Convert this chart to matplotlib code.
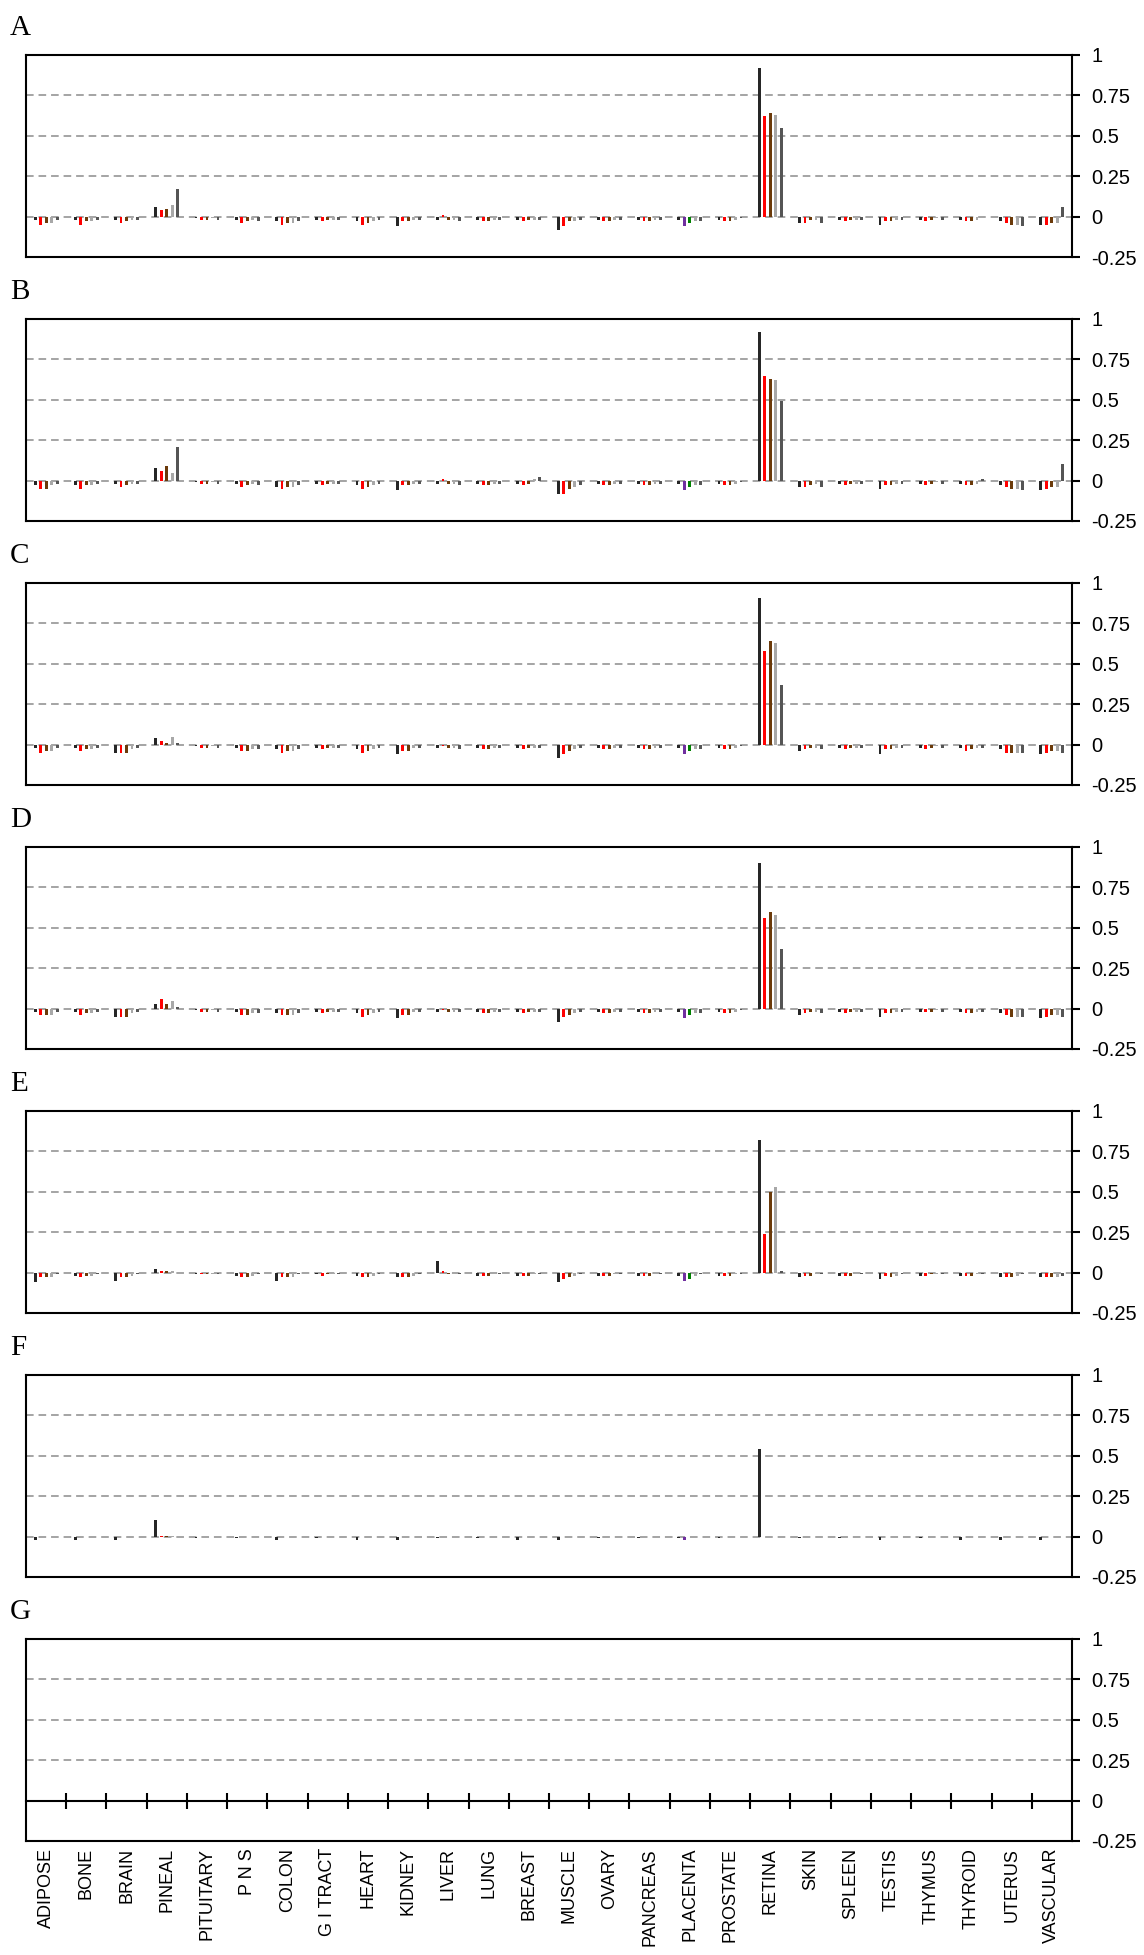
import numpy as np
import matplotlib
matplotlib.use('Agg')
import matplotlib.pyplot as plt

plt.rcParams['font.family'] = ['Liberation Sans', 'DejaVu Sans']

tissues = ['ADIPOSE', 'BONE', 'BRAIN', 'PINEAL', 'PITUITARY', 'P N S', 'COLON', 'G I TRACT',
           'HEART', 'KIDNEY', 'LIVER', 'LUNG', 'BREAST', 'MUSCLE', 'OVARY', 'PANCREAS',
           'PLACENTA', 'PROSTATE', 'RETINA', 'SKIN', 'SPLEEN', 'TESTIS', 'THYMUS', 'THYROID',
           'UTERUS', 'VASCULAR']
panel_names = ['A', 'B', 'C', 'D', 'E', 'F', 'G']
y_ticks = [-0.25, 0, 0.25, 0.5, 0.75, 1]
y_tick_labels = ['-0.25', '0', '0.25', '0.5', '0.75', '1']

# five series per tissue
A_s1 = [-0.02, -0.02, -0.02, 0.06, -0.01, -0.02, -0.03, -0.02, -0.03, -0.06, -0.02, -0.02, -0.02,
        -0.08, -0.02, -0.02, -0.02, -0.02, 0.92, -0.04, -0.02, -0.05, -0.02, -0.02, -0.03, -0.05]
A_s2 = [-0.05, -0.05, -0.04, 0.04, -0.02, -0.04, -0.05, -0.03, -0.05, -0.03, 0.01, -0.03, -0.03,
        -0.06, -0.03, -0.03, -0.06, -0.03, 0.62, -0.04, -0.03, -0.03, -0.03, -0.03, -0.04, -0.05]
A_s3 = [-0.04, -0.03, -0.03, 0.05, -0.02, -0.03, -0.04, -0.02, -0.04, -0.03, -0.02, -0.03, -0.02,
        -0.03, -0.03, -0.03, -0.04, -0.03, 0.64, -0.02, -0.02, -0.03, -0.02, -0.03, -0.05, -0.04]
A_s4 = [-0.04, -0.03, -0.02, 0.07, -0.01, -0.02, -0.04, -0.02, -0.03, -0.02, -0.02, -0.02, -0.02,
        -0.03, -0.02, -0.02, -0.03, -0.02, 0.63, -0.02, -0.02, -0.02, -0.01, -0.02, -0.05, -0.04]
A_s5 = [-0.02, -0.02, -0.02, 0.17, -0.02, -0.03, -0.03, -0.02, -0.02, -0.02, -0.03, -0.02, -0.02,
        -0.02, -0.02, -0.02, -0.03, -0.01, 0.55, -0.04, -0.02, -0.02, -0.02, 0.00, -0.06, 0.06]

B_s1 = [-0.03, -0.03, -0.02, 0.08, -0.01, -0.02, -0.04, -0.02, -0.03, -0.06, -0.02, -0.02, -0.02,
        -0.08, -0.02, -0.02, -0.02, -0.02, 0.92, -0.04, -0.02, -0.05, -0.02, -0.02, -0.03, -0.06]
B_s2 = [-0.05, -0.05, -0.04, 0.06, -0.02, -0.04, -0.05, -0.03, -0.05, -0.03, 0.01, -0.03, -0.03,
        -0.08, -0.03, -0.03, -0.06, -0.03, 0.65, -0.04, -0.03, -0.03, -0.03, -0.03, -0.04, -0.05]
B_s3 = [-0.05, -0.03, -0.03, 0.09, -0.02, -0.03, -0.04, -0.02, -0.04, -0.03, -0.02, -0.03, -0.02,
        -0.05, -0.03, -0.03, -0.04, -0.03, 0.63, -0.03, -0.02, -0.03, -0.02, -0.03, -0.05, -0.04]
B_s4 = [-0.03, -0.03, -0.02, 0.05, -0.01, -0.02, -0.04, -0.02, -0.03, -0.02, -0.02, -0.02, 0.01,
        -0.04, -0.02, -0.02, -0.03, -0.02, 0.62, -0.02, -0.02, -0.02, -0.01, -0.02, -0.05, -0.04]
B_s5 = [-0.02, -0.02, -0.02, 0.21, -0.02, -0.03, -0.03, -0.02, -0.02, -0.02, -0.03, -0.02, 0.02,
        -0.03, -0.02, -0.02, -0.03, -0.01, 0.49, -0.04, -0.02, -0.02, -0.02, 0.01, -0.06, 0.10]

C_s1 = [-0.02, -0.02, -0.05, 0.04, -0.01, -0.02, -0.03, -0.02, -0.03, -0.06, -0.02, -0.02, -0.02,
        -0.08, -0.02, -0.02, -0.02, -0.02, 0.91, -0.04, -0.02, -0.06, -0.02, -0.02, -0.03, -0.06]
C_s2 = [-0.05, -0.04, -0.05, 0.02, -0.02, -0.04, -0.05, -0.03, -0.05, -0.04, -0.01, -0.03, -0.03,
        -0.06, -0.03, -0.03, -0.06, -0.03, 0.58, -0.03, -0.03, -0.03, -0.03, -0.04, -0.05, -0.05]
C_s3 = [-0.04, -0.03, -0.05, 0.01, -0.02, -0.04, -0.04, -0.02, -0.04, -0.04, -0.02, -0.03, -0.02,
        -0.04, -0.03, -0.03, -0.04, -0.03, 0.64, -0.02, -0.02, -0.03, -0.02, -0.03, -0.05, -0.04]
C_s4 = [-0.04, -0.03, -0.03, 0.05, -0.01, -0.03, -0.04, -0.02, -0.03, -0.02, -0.02, -0.02, -0.02,
        -0.03, -0.02, -0.02, -0.03, -0.02, 0.63, -0.02, -0.02, -0.02, -0.01, -0.02, -0.05, -0.04]
C_s5 = [-0.02, -0.02, -0.02, 0.01, -0.02, -0.03, -0.03, -0.02, -0.02, -0.02, -0.03, -0.02, -0.02,
        -0.02, -0.02, -0.02, -0.03, -0.01, 0.37, -0.03, -0.02, -0.02, -0.02, -0.02, -0.05, -0.05]

D_s1 = [-0.02, -0.02, -0.05, 0.03, -0.01, -0.02, -0.03, -0.02, -0.03, -0.06, -0.02, -0.02, -0.02,
        -0.08, -0.02, -0.02, -0.02, -0.02, 0.90, -0.04, -0.02, -0.05, -0.02, -0.02, -0.03, -0.06]
D_s2 = [-0.04, -0.04, -0.05, 0.06, -0.02, -0.04, -0.04, -0.03, -0.05, -0.04, -0.01, -0.03, -0.03,
        -0.05, -0.03, -0.03, -0.06, -0.03, 0.56, -0.03, -0.03, -0.03, -0.02, -0.03, -0.04, -0.05]
D_s3 = [-0.04, -0.03, -0.05, 0.03, -0.02, -0.04, -0.04, -0.02, -0.04, -0.04, -0.02, -0.03, -0.02,
        -0.04, -0.03, -0.03, -0.04, -0.03, 0.60, -0.02, -0.02, -0.03, -0.02, -0.03, -0.05, -0.04]
D_s4 = [-0.04, -0.03, -0.03, 0.05, -0.01, -0.03, -0.04, -0.02, -0.03, -0.02, -0.02, -0.02, -0.02,
        -0.03, -0.02, -0.02, -0.03, -0.02, 0.58, -0.02, -0.02, -0.02, -0.01, -0.02, -0.05, -0.04]
D_s5 = [-0.02, -0.02, -0.02, 0.01, -0.02, -0.03, -0.03, -0.02, -0.02, -0.02, -0.02, -0.02, -0.02,
        -0.02, -0.02, -0.02, -0.03, -0.01, 0.37, -0.03, -0.02, -0.02, -0.02, -0.02, -0.05, -0.05]

E_s1 = [-0.06, -0.02, -0.05, 0.02, -0.01, -0.02, -0.05, -0.01, -0.02, -0.03, 0.07, -0.02, -0.02,
        -0.06, -0.02, -0.02, -0.02, -0.02, 0.82, -0.03, -0.02, -0.04, -0.02, -0.02, -0.03, -0.03]
E_s2 = [-0.03, -0.03, -0.03, 0.01, -0.01, -0.03, -0.03, -0.02, -0.03, -0.03, 0.01, -0.02, -0.02,
        -0.04, -0.02, -0.02, -0.05, -0.02, 0.24, -0.02, -0.02, -0.02, -0.02, -0.02, -0.03, -0.03]
E_s3 = [-0.03, -0.02, -0.03, 0.01, -0.01, -0.03, -0.03, -0.01, -0.03, -0.03, -0.01, -0.02, -0.02,
        -0.03, -0.02, -0.02, -0.04, -0.02, 0.50, -0.02, -0.02, -0.03, -0.01, -0.02, -0.03, -0.03]
E_s4 = [-0.03, -0.02, -0.02, 0.01, -0.01, -0.02, -0.03, -0.01, -0.02, -0.02, -0.01, -0.01, -0.01,
        -0.02, -0.01, -0.01, -0.02, -0.01, 0.53, -0.01, -0.01, -0.02, -0.01, -0.01, -0.02, -0.03]
E_s5 = [-0.01, -0.01, -0.01, 0.00, -0.01, -0.01, -0.01, -0.01, -0.01, -0.01, -0.01, -0.01, -0.01,
        -0.01, -0.01, -0.01, -0.01, -0.01, 0.01, -0.01, -0.01, -0.01, -0.01, -0.01, -0.01, -0.02]

F_s1 = [-0.02, -0.02, -0.02, 0.10, -0.01, -0.01, -0.02, -0.01, -0.02, -0.02, -0.01, -0.01, -0.02,
        -0.02, -0.01, -0.01, -0.01, -0.01, 0.54, -0.01, -0.01, -0.02, -0.01, -0.02, -0.02, -0.02]
F_s2 = [-0.003, -0.003, -0.003, 0.003, -0.002, -0.003, -0.003, -0.002, -0.003, -0.003, -0.002, -0.002, -0.002,
        -0.004, -0.002, -0.002, -0.02, -0.002, 0.00, -0.002, -0.002, -0.002, -0.002, -0.002, -0.003, -0.003]
F_s3 = [-0.003, -0.002, -0.002, 0.002, -0.002, -0.002, -0.003, -0.002, -0.002, -0.002, -0.002, -0.002, -0.002,
        -0.003, -0.002, -0.002, -0.004, -0.002, 0.00, -0.002, -0.002, -0.002, -0.002, -0.002, -0.003, -0.003]
F_s4 = [-0.002, -0.002, -0.002, 0.002, -0.001, -0.002, -0.002, -0.001, -0.002, -0.002, -0.001, -0.001, -0.001,
        -0.002, -0.001, -0.001, -0.002, -0.001, 0.00, -0.001, -0.001, -0.002, -0.001, -0.001, -0.002, -0.002]
F_s5 = [0.0] * 26

G_s1 = [0.0] * 26
G_s2 = [0.0] * 26
G_s3 = [0.0] * 26
G_s4 = [0.0] * 26
G_s5 = [0.0] * 26

panels = [
    [A_s1, A_s2, A_s3, A_s4, A_s5],
    [B_s1, B_s2, B_s3, B_s4, B_s5],
    [C_s1, C_s2, C_s3, C_s4, C_s5],
    [D_s1, D_s2, D_s3, D_s4, D_s5],
    [E_s1, E_s2, E_s3, E_s4, E_s5],
    [F_s1, F_s2, F_s3, F_s4, F_s5],
    [G_s1, G_s2, G_s3, G_s4, G_s5],
]

series_colors = ['#262626', '#ff0000', '#6b3a0a', '#a8a8a8', '#555555']
# placenta bars use other colours for series 2 and 3
placenta_colors = {1: '#7030a0', 2: '#008000'}
placenta_idx = tissues.index('PLACENTA')

W, H = 1144, 1955
left, width = 26, 1046
top0, pitch, height = 55, 264, 202

fig = plt.figure(figsize=(W / 100, H / 100), dpi=100)

n = len(tissues)
x = np.arange(n) + 0.5
pitch_bar = 0.137
bar_w = 0.07

for p, (name, series) in enumerate(zip(panel_names, panels)):
    top = top0 + p * pitch
    ax = fig.add_axes([left / W, 1 - (top + height) / H, width / W, height / H])
    ax.set_xlim(0, n)
    ax.set_ylim(-0.25, 1)
    ax.set_axisbelow(True)

    for k, vals in enumerate(series):
        cols = [series_colors[k]] * n
        if k in placenta_colors and p < 6:
            cols[placenta_idx] = placenta_colors[k]
        ax.bar(x + (k - 2) * pitch_bar, vals, bar_w, color=cols, linewidth=0, zorder=3)

    ax.set_yticks(y_ticks)
    ax.set_yticklabels(y_tick_labels)
    ax.yaxis.grid(True, color='#8c8c8c', linewidth=1.1, linestyle=(0, (5, 3.2)))
    ax.tick_params(axis='y', left=False, right=True, labelleft=False, labelright=True,
                   direction='out', length=5.8, width=1.5, pad=8, labelsize=14.5)
    for sp in ax.spines.values():
        sp.set_linewidth(1.5)
        sp.set_color('black')

    if p < 6:
        ax.set_xticks([])
    else:
        ax.set_xticks(x)
        ax.set_xticklabels(tissues, rotation=90, fontsize=13, va='top')
        ax.tick_params(axis='x', length=0, pad=5)
        # zero gridline replaced by the solid category axis
        ax.yaxis.get_gridlines()[1].set_visible(False)
        sec = ax.secondary_xaxis(0.2)
        sec.set_xticks(np.arange(1, n))
        sec.set_xticklabels([])
        sec.tick_params(axis='x', direction='inout', length=12, width=1.5, color='black')
        sec.spines['bottom'].set_linewidth(1.5)

    fig.text(10 / W, 1 - (top - 20) / H, name, fontsize=21, family='Liberation Serif',
             va='baseline', ha='left')

fig.savefig('out.png', dpi=100)
